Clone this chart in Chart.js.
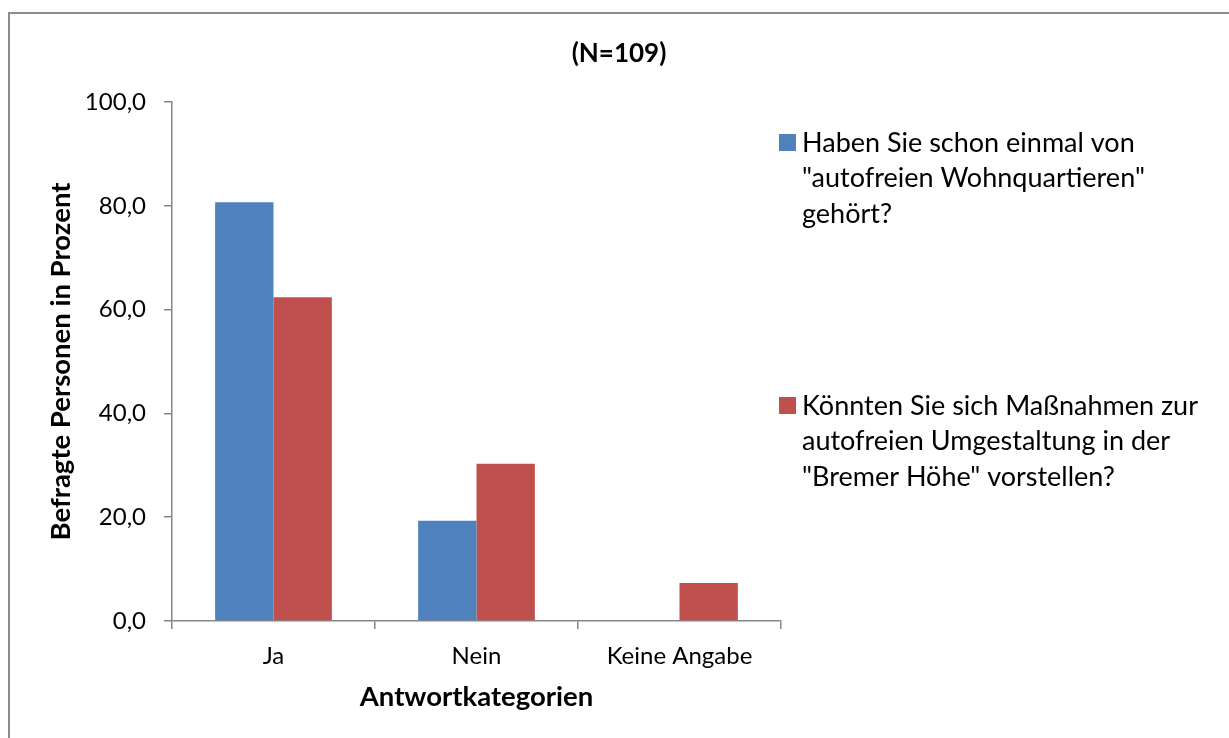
<!DOCTYPE html>
<html>
<head>
<meta charset="utf-8">
<script src="https://cdn.jsdelivr.net/npm/chart.js@4/dist/chart.umd.min.js"></script>
<style>
  body { margin: 0; background: #fff; }
  #wrap { width: 1229px; height: 738px; }
</style>
</head>
<body>
<div id="wrap"><canvas id="umfrageChart" width="1229" height="738"></canvas></div>
<script>
const chartTitle = "(N=109)";
const categories = ["Ja", "Nein", "Keine Angabe"];
const gehoertValues = [80.7, 19.3, 0];
const massnahmenValues = [62.4, 30.3, 7.3];
const seriesLines = [
  ["Haben Sie schon einmal von", "\"autofreien Wohnquartieren\"", "gehört?"],
  ["Könnten Sie sich Maßnahmen zur", "autofreien Umgestaltung in der", "\"Bremer Höhe\" vorstellen?"]
];
const barColors = ["#4F81BD", "#C0504D"];
const yTicks = [0, 20, 40, 60, 80, 100];

const fontFamily = "Lato, 'Open Sans', sans-serif";
const axisColor = "#868686";

// outer frame, centred title and legend with wrapped lines
const frameLegend = {
  id: 'frameLegend',
  beforeDraw(chart) {
    const ctx = chart.ctx;
    ctx.save();
    ctx.strokeStyle = "#8c8c8c";
    ctx.lineWidth = 2;
    ctx.strokeRect(9, 13, 1400, 900);
    ctx.restore();
  },
  afterDraw(chart) {
    const ctx = chart.ctx;
    ctx.save();
    ctx.fillStyle = "#000";
    ctx.textBaseline = "middle";
    ctx.textAlign = "center";
    ctx.font = "bold 26px " + fontFamily;
    ctx.fillText(chartTitle, 619, 54);

    const boxTops = [134, 397];
    ctx.textAlign = "left";
    ctx.font = "27px " + fontFamily;
    chart.data.datasets.forEach(function(ds, i) {
      ctx.fillStyle = ds.backgroundColor;
      ctx.fillRect(779, boxTops[i], 17, 17);
      ctx.fillStyle = "#000";
      seriesLines[i].forEach(function(line, j) {
        ctx.fillText(line, 802, boxTops[i] + 9 + j * 35.5);
      });
    });
    ctx.restore();
  }
};

new Chart("umfrageChart", {
  type: "bar",
  data: {
    labels: categories,
    datasets: [
      { label: seriesLines[0].join(" "), data: gehoertValues, backgroundColor: barColors[0] },
      { label: seriesLines[1].join(" "), data: massnahmenValues, backgroundColor: barColors[1] }
    ]
  },
  plugins: [frameLegend],
  options: {
    responsive: false,
    animation: false,
    layout: { padding: { left: 0, right: 448, top: 102, bottom: 0 } },
    categoryPercentage: 0.575,
    barPercentage: 1.0,
    plugins: {
      legend: { display: false },
      tooltip: { enabled: false },
      title: { display: false }
    },
    scales: {
      x: {
        afterFit(scale) { scale.height = 117; },
        border: { display: true, color: axisColor, width: 1.5 },
        grid: { display: true, drawOnChartArea: false, drawTicks: true, tickLength: 8, color: axisColor, lineWidth: 1.5, offset: true },
        ticks: { color: "#000", padding: 13, font: { family: fontFamily, size: 24 } },
        title: {
          display: true,
          text: "Antwortkategorien",
          color: "#000",
          font: { family: fontFamily, size: 27.5, weight: "bold" },
          padding: { top: 0, bottom: 24 }
        }
      },
      y: {
        min: 0,
        max: 100,
        afterFit(scale) { scale.width = 172; },
        afterBuildTicks(scale) { scale.ticks = yTicks.map(function(v) { return { value: v }; }); },
        border: { display: true, color: axisColor, width: 1.5 },
        grid: { display: true, drawOnChartArea: false, drawTicks: true, tickLength: 8, color: axisColor, lineWidth: 1.5 },
        ticks: {
          color: "#000",
          padding: 18,
          font: { family: fontFamily, size: 24 },
          callback: function(v) { return v.toFixed(1).replace(".", ","); }
        },
        title: {
          display: true,
          text: "Befragte Personen in Prozent",
          color: "#000",
          font: { family: fontFamily, size: 27.5, weight: "bold" },
          padding: { top: 45, bottom: 0 }
        }
      }
    }
  }
});
</script>
</body>
</html>
